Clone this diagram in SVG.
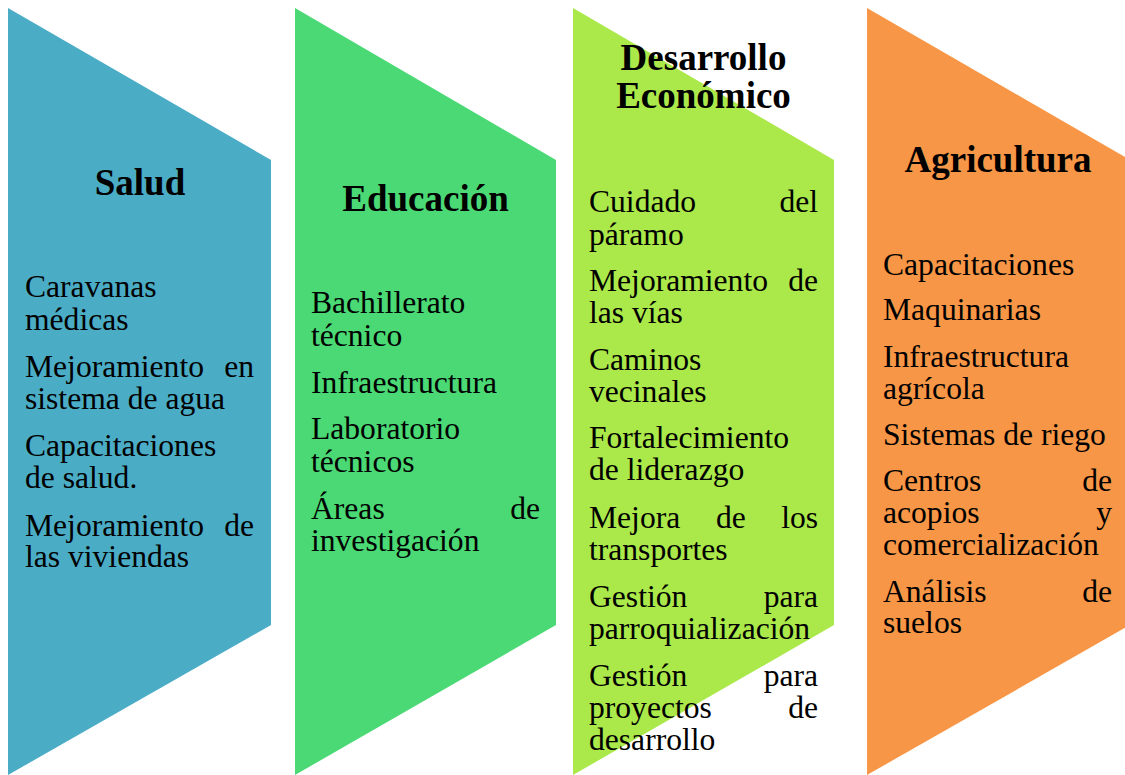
<svg xmlns="http://www.w3.org/2000/svg" width="1125" height="775" viewBox="0 0 1125 775">
<style>
.t{font-family:"Liberation Serif","Times New Roman",serif;font-weight:bold;font-size:37px;fill:#000;text-anchor:middle}
.b{font-family:"Liberation Serif","Times New Roman",serif;font-size:31.6px;fill:#000}
.e{text-anchor:end}
</style>
<rect width="1125" height="775" fill="#fff"/>
<g id="connectors"/>
<g id="salud">
<path d="M8,8 L271,160 L271,625 L8,775 Z" fill="#4BACC6"/>
<text class="t" x="140" y="195">Salud</text>
<text class="b" x="25" y="297">Caravanas</text>
<text class="b" x="25" y="330">médicas</text>
<text class="b" x="25" y="377">Mejoramiento</text><text class="b e" x="254" y="377">en</text>
<text class="b" x="25" y="409">sistema de agua</text>
<text class="b" x="25" y="456">Capacitaciones</text>
<text class="b" x="25" y="488">de salud.</text>
<text class="b" x="25" y="536">Mejoramiento</text><text class="b e" x="254" y="536">de</text>
<text class="b" x="25" y="567">las viviendas</text>
</g>
<g id="educacion">
<path d="M295,8 L556,160 L556,625 L295,775 Z" fill="#4AD974"/>
<text class="t" x="425.5" y="211">Educación</text>
<text class="b" x="311" y="313">Bachillerato</text>
<text class="b" x="311" y="346">técnico</text>
<text class="b" x="311" y="393">Infraestructura</text>
<text class="b" x="311" y="439">Laboratorio</text>
<text class="b" x="311" y="472">técnicos</text>
<text class="b" x="311" y="519">Áreas</text><text class="b e" x="540" y="519">de</text>
<text class="b" x="311" y="551">investigación</text>
</g>
<g id="desarrollo">
<path d="M573,8 L834,160 L834,625 L573,775 Z" fill="#ABE84A"/>
<text class="t" x="703.5" y="70">Desarrollo</text>
<text class="t" x="703.5" y="108">Económico</text>
<text class="b" x="589" y="212">Cuidado</text><text class="b e" x="818" y="212">del</text>
<text class="b" x="589" y="245">páramo</text>
<text class="b" x="589" y="291">Mejoramiento</text><text class="b e" x="818" y="291">de</text>
<text class="b" x="589" y="323">las vías</text>
<text class="b" x="589" y="370">Caminos</text>
<text class="b" x="589" y="402">vecinales</text>
<text class="b" x="589" y="448">Fortalecimiento</text>
<text class="b" x="589" y="480">de liderazgo</text>
<text class="b" x="589" y="528">Mejora</text><text class="b" x="716" y="528">de</text><text class="b e" x="818" y="528">los</text>
<text class="b" x="589" y="560">transportes</text>
<text class="b" x="589" y="607">Gestión</text><text class="b e" x="818" y="607">para</text>
<text class="b" x="589" y="639">parroquialización</text>
<text class="b" x="589" y="686">Gestión</text><text class="b e" x="818" y="686">para</text>
<text class="b" x="589" y="718">proyectos</text><text class="b e" x="818" y="718">de</text>
<text class="b" x="589" y="750">desarrollo</text>
</g>
<g id="agricultura">
<path d="M867,8 L1130,160 L1130,625 L867,775 Z" fill="#F79646"/>
<text class="t" x="998" y="172">Agricultura</text>
<text class="b" x="883" y="275">Capacitaciones</text>
<text class="b" x="883" y="320">Maquinarias</text>
<text class="b" x="883" y="367">Infraestructura</text>
<text class="b" x="883" y="399">agrícola</text>
<text class="b" x="883" y="445">Sistemas de riego</text>
<text class="b" x="883" y="491">Centros</text><text class="b e" x="1112" y="491">de</text>
<text class="b" x="883" y="523">acopios</text><text class="b e" x="1112" y="523">y</text>
<text class="b" x="883" y="555">comercialización</text>
<text class="b" x="883" y="602">Análisis</text><text class="b e" x="1112" y="602">de</text>
<text class="b" x="883" y="633">suelos</text>
</g>
</svg>
